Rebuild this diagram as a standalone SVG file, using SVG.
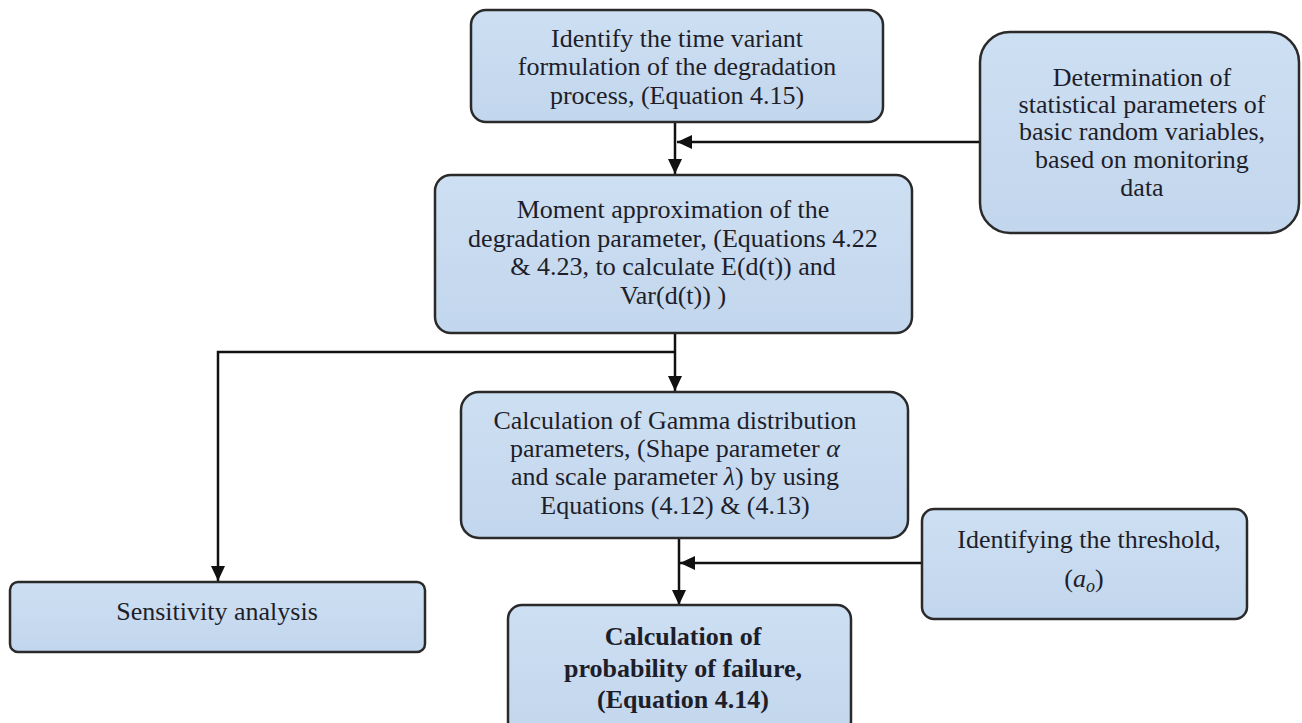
<svg xmlns="http://www.w3.org/2000/svg" width="1302" height="723" viewBox="0 0 1302 723">
  <defs>
    <linearGradient id="boxFill" x1="0" y1="0" x2="0" y2="1">
      <stop offset="0" stop-color="#cddff2"/>
      <stop offset="1" stop-color="#c2d6ed"/>
    </linearGradient>
    <marker id="arrow" viewBox="0 0 15 14" refX="15" refY="7" markerWidth="15" markerHeight="14" markerUnits="userSpaceOnUse" orient="auto">
      <path d="M0,0 L15,7 L0,14 Z" fill="#111"/>
    </marker>
    <style>
      .box { fill: url(#boxFill); stroke: #2a2a2a; stroke-width: 2.5; }
      .t { font-family: "Liberation Serif", "Times New Roman", serif; font-size: 26px; fill: #1e1e2a; text-anchor: middle; }
      .b { font-weight: bold; }
      .i { font-style: italic; }
      .conn { fill: none; stroke: #111; stroke-width: 2.5; }
    </style>
  </defs>

  <rect width="1302" height="723" fill="#ffffff"/>

  <!-- connectors -->
  <g id="connectors">
    <path class="conn" d="M675,122 V174" marker-end="url(#arrow)"/>
    <path class="conn" d="M980,142 H677" marker-end="url(#arrow)"/>
    <path class="conn" d="M675,333 V391" marker-end="url(#arrow)"/>
    <path class="conn" d="M675,352 H218 V581" marker-end="url(#arrow)"/>
    <path class="conn" d="M679,538 V605" marker-end="url(#arrow)"/>
    <path class="conn" d="M922,563 H680" marker-end="url(#arrow)"/>
  </g>

  <!-- time variant formulation -->
  <g id="node-formulation">
    <rect class="box" x="471" y="10" width="412" height="112" rx="15"/>
    <text class="t" x="677" y="47">Identify the time variant</text>
    <text class="t" x="677" y="75">formulation of the degradation</text>
    <text class="t" x="677" y="104">process, (Equation 4.15)</text>
  </g>

  <!-- statistical parameters -->
  <g id="node-statistics">
    <rect class="box" x="980" y="32" width="319" height="201" rx="30"/>
    <text class="t" x="1142" y="86">Determination of</text>
    <text class="t" x="1142" y="113">statistical parameters of</text>
    <text class="t" x="1142" y="140">basic random variables,</text>
    <text class="t" x="1142" y="168">based on monitoring</text>
    <text class="t" x="1142" y="196">data</text>
  </g>

  <!-- moment approximation -->
  <g id="node-moment">
    <rect class="box" x="435" y="175" width="477" height="158" rx="16"/>
    <text class="t" x="673" y="218">Moment approximation of the</text>
    <text class="t" x="673" y="247">degradation parameter, (Equations 4.22</text>
    <text class="t" x="673" y="275">&amp; 4.23, to calculate E(d(t)) and</text>
    <text class="t" x="673" y="304">Var(d(t)) )</text>
  </g>

  <!-- gamma parameters -->
  <g id="node-gamma">
    <rect class="box" x="461" y="392" width="447" height="146" rx="18"/>
    <text class="t" x="675" y="429">Calculation of Gamma distribution</text>
    <text class="t" x="675" y="457">parameters, (Shape parameter <tspan class="i">α</tspan></text>
    <text class="t" x="675" y="485">and scale parameter <tspan class="i">λ</tspan>) by using</text>
    <text class="t" x="675" y="514">Equations (4.12) &amp; (4.13)</text>
  </g>

  <!-- sensitivity analysis -->
  <g id="node-sensitivity">
    <rect class="box" x="10" y="582" width="415" height="70" rx="8"/>
    <text class="t" x="217" y="620">Sensitivity analysis</text>
  </g>

  <!-- threshold -->
  <g id="node-threshold">
    <rect class="box" x="922" y="509" width="325" height="110" rx="12"/>
    <text class="t" x="1089" y="548">Identifying the threshold,</text>
    <text class="t" x="1084" y="587">(<tspan class="i">a</tspan><tspan class="i" font-size="18" dy="5">o</tspan><tspan dy="-5">)</tspan></text>
  </g>

  <!-- probability of failure -->
  <g id="node-failure">
    <rect class="box" x="508" y="605" width="343" height="130" rx="14"/>
    <text class="t b" x="683" y="645">Calculation of</text>
    <text class="t b" x="683" y="677">probability of failure,</text>
    <text class="t b" x="683" y="708">(Equation 4.14)</text>
  </g>
</svg>
